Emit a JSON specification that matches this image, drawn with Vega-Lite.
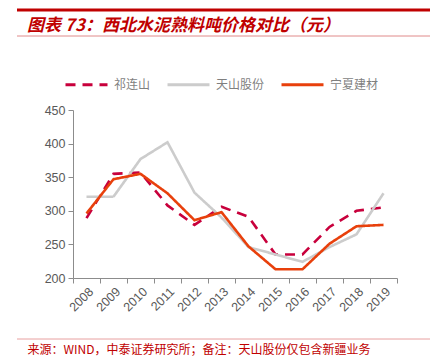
{
  "$schema": "https://vega.github.io/schema/vega-lite/v6.json",
  "autosize": {"type": "none"},
  "width": 324,
  "height": 168,
  "padding": {"left": 73, "top": 110, "right": 47, "bottom": 78},
  "background": "white",
  "config": {
    "view": {"stroke": null},
    "font": "Liberation Sans"
  },
  "title": {
    "text": "图表 73：西北水泥熟料吨价格对比（元）",
    "anchor": "start",
    "frame": "group",
    "dx": -46,
    "offset": -26,
    "font": "Noto Sans CJK SC",
    "fontSize": 17,
    "fontWeight": "bold",
    "fontStyle": "italic",
    "color": "#C00000"
  },
  "layer": [
    {
      "data": {"values": [{}]},
      "mark": {"type": "rule", "color": "#C00000", "strokeWidth": 3},
      "encoding": {"x": {"value": -56}, "x2": {"value": 357}, "y": {"value": -100}}
    },
    {
      "data": {"values": [{}]},
      "mark": {"type": "rule", "color": "#E08A8A", "strokeWidth": 1},
      "encoding": {"x": {"value": -56}, "x2": {"value": 357}, "y": {"value": -74}}
    },
    {
      "data": {"values": [{}]},
      "mark": {"type": "rule", "color": "#E8A0A0", "strokeWidth": 1},
      "encoding": {"x": {"value": -56}, "x2": {"value": 357}, "y": {"value": 229}}
    },
    {
      "data": {
        "values": [
          {"year": "2008", "company": "祁连山", "price": 289},
          {"year": "2009", "company": "祁连山", "price": 355},
          {"year": "2010", "company": "祁连山", "price": 357},
          {"year": "2011", "company": "祁连山", "price": 308},
          {"year": "2012", "company": "祁连山", "price": 279},
          {"year": "2013", "company": "祁连山", "price": 306},
          {"year": "2014", "company": "祁连山", "price": 291},
          {"year": "2015", "company": "祁连山", "price": 235},
          {"year": "2016", "company": "祁连山", "price": 235},
          {"year": "2017", "company": "祁连山", "price": 276},
          {"year": "2018", "company": "祁连山", "price": 300},
          {"year": "2019", "company": "祁连山", "price": 305},
          {"year": "2008", "company": "天山股份", "price": 321},
          {"year": "2009", "company": "天山股份", "price": 321},
          {"year": "2010", "company": "天山股份", "price": 377},
          {"year": "2011", "company": "天山股份", "price": 402},
          {"year": "2012", "company": "天山股份", "price": 327},
          {"year": "2013", "company": "天山股份", "price": 290},
          {"year": "2014", "company": "天山股份", "price": 246},
          {"year": "2015", "company": "天山股份", "price": 235},
          {"year": "2016", "company": "天山股份", "price": 224},
          {"year": "2017", "company": "天山股份", "price": 246},
          {"year": "2018", "company": "天山股份", "price": 265},
          {"year": "2019", "company": "天山股份", "price": 326},
          {"year": "2008", "company": "宁夏建材", "price": 296},
          {"year": "2009", "company": "宁夏建材", "price": 347},
          {"year": "2010", "company": "宁夏建材", "price": 355},
          {"year": "2011", "company": "宁夏建材", "price": 326},
          {"year": "2012", "company": "宁夏建材", "price": 286},
          {"year": "2013", "company": "宁夏建材", "price": 298},
          {"year": "2014", "company": "宁夏建材", "price": 247},
          {"year": "2015", "company": "宁夏建材", "price": 213},
          {"year": "2016", "company": "宁夏建材", "price": 213},
          {"year": "2017", "company": "宁夏建材", "price": 251},
          {"year": "2018", "company": "宁夏建材", "price": 277},
          {"year": "2019", "company": "宁夏建材", "price": 279}
        ]
      },
      "mark": {"type": "line", "strokeWidth": 2.6},
      "encoding": {
        "x": {
          "field": "year",
          "type": "ordinal",
          "scale": {"type": "band", "paddingInner": 0, "paddingOuter": 0},
          "axis": {
            "tickBand": "extent",
            "labelAngle": -45,
            "labelFontSize": 12.5,
            "labelColor": "#595959",
            "labelPadding": 2,
            "tickSize": 5,
            "tickColor": "#8C8C8C",
            "domainColor": "#8C8C8C",
            "grid": false,
            "title": "来源：WIND，中泰证券研究所；备注：天山股份仅包含新疆业务",
            "titleAnchor": "start",
            "titleAlign": "left",
            "titleBaseline": "alphabetic",
            "titleX": -46,
            "titleY": 75,
            "titleFont": "Noto Sans CJK SC",
            "titleFontSize": 12,
            "titleFontWeight": "normal",
            "titleColor": "#C00000"
          }
        },
        "y": {
          "field": "price",
          "type": "quantitative",
          "scale": {"domain": [200, 450], "nice": false, "zero": false},
          "axis": {
            "values": [200, 250, 300, 350, 400, 450],
            "labelFontSize": 12.5,
            "labelColor": "#595959",
            "tickSize": 5,
            "tickColor": "#8C8C8C",
            "domainColor": "#8C8C8C",
            "labelPadding": 3,
            "grid": false,
            "title": null
          }
        },
        "color": {
          "field": "company",
          "type": "nominal",
          "scale": {"domain": ["祁连山", "天山股份", "宁夏建材"], "range": ["#C8003C", "#CCCCCC", "#E8400C"]},
          "legend": {
            "orient": "none",
            "legendX": -9,
            "legendY": -48,
            "direction": "horizontal",
            "title": null,
            "symbolType": "stroke",
            "symbolSize": 1764,
            "symbolStrokeWidth": 3,
            "labelFont": "Noto Sans CJK SC",
            "labelFontSize": 12,
            "labelColor": "#7F7F7F",
            "labelOffset": 5,
            "columnPadding": 10
          }
        },
        "strokeDash": {
          "field": "company",
          "type": "nominal",
          "scale": {"domain": ["祁连山", "天山股份", "宁夏建材"], "range": [[10, 7], [1, 0], [1, 0]]},
          "legend": {
            "orient": "none",
            "legendX": -9,
            "legendY": -48,
            "direction": "horizontal",
            "title": null,
            "symbolType": "stroke",
            "symbolSize": 1764,
            "symbolStrokeWidth": 3,
            "labelFont": "Noto Sans CJK SC",
            "labelFontSize": 12,
            "labelColor": "#7F7F7F",
            "labelOffset": 5,
            "columnPadding": 10
          }
        }
      }
    }
  ]
}
